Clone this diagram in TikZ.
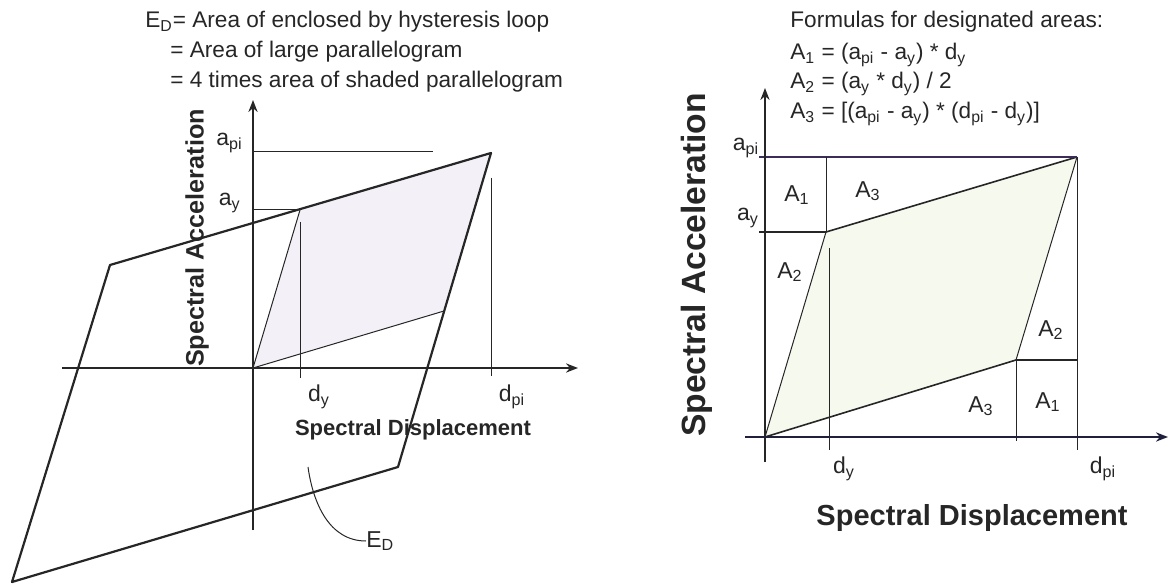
\documentclass[tikz,border=0pt]{standalone}
\usepackage{fontspec}
\setmainfont{Liberation Sans}
\usetikzlibrary{arrows.meta}
\definecolor{ink}{HTML}{262626}
\definecolor{inkB}{HTML}{20203C}
\definecolor{purp}{HTML}{3C2C5A}
\definecolor{shA}{HTML}{F4F0F7}
\definecolor{shB}{HTML}{F6F9EE}
\newcommand{\subx}[1]{\textsubscript{#1}}
\tikzset{
  axis/.style={-{Stealth[length=6pt, width=4.6pt]}, line width=0.8pt, ink},
  loopline/.style={line width=1.1pt, ink, line join=round},
  midline/.style={line width=0.8pt, ink},
  guide/.style={line width=0.5pt, ink},
  lab/.style={font=\fontsize{11.3}{13}\selectfont, text=ink, inner sep=0pt},
  albl/.style={font=\fontsize{11.5}{13}\selectfont, text=ink, inner sep=0pt},
  axtA/.style={font=\bfseries\fontsize{11}{13}\selectfont, text=ink, inner sep=0pt},
  axtB/.style={font=\bfseries\fontsize{14.5}{16}\selectfont, text=ink, inner sep=0pt},
  vaxA/.style={font=\bfseries\fontsize{12.6}{14}\selectfont, text=ink, inner sep=0pt, rotate=90},
  vaxB/.style={font=\bfseries\fontsize{16.8}{18}\selectfont, text=ink, inner sep=0pt, rotate=90},
}

\begin{document}
\begin{tikzpicture}[x=0.5pt,y=-0.5pt]
\useasboundingbox (0,0) rectangle (1172,588);

% ============ panel (a): hysteresis loop and E_D ============================
\begin{scope}
  \node[lab, anchor=base west] (ta) at (145,28) {E\subx{D}= Area of enclosed by hysteresis loop};
  \node[lab, anchor=base west] (tb) at (170,58) {= Area of large parallelogram};
  \node[lab, anchor=base west] (tc) at (170,88) {= 4 times area of shaded parallelogram};
  % corner points
  \coordinate (O) at (253,368);
  \coordinate (Y) at (300,210);
  \coordinate (P) at (491,153);
  \coordinate (Q) at (444,311);
  % shaded parallelogram
  \fill[shA] (O) -- (Y) -- (P) -- (Q) -- cycle;
  \draw[guide] (O) -- (Y);
  \draw[guide] (Q) -- (O);
  % guide lines
  \draw[guide] (253,152) -- (433,152);
  \draw[guide] (O |- Y) -- (Y);
  \draw[guide] (300,222) -- (300,378);
  \draw[guide] (491,178) -- (491,376);
  % axes
  \draw[axis] (253,530) -- (253,100);
  \draw[axis] (62,368) -- (578,368);
  % large parallelogram
  \draw[loopline] (110,265) -- (P) -- (398,467) -- (12,582) -- cycle;
  % labels
  \node[albl, anchor=east] (apiA) at (243,143) {a\subx{pi}};
  \node[albl, anchor=east] (ayA) at (241,203) {a\subx{y}};
  \node[albl] (dyA) at (319,397) {d\subx{y}};
  \node[albl] (dpiA) at (512,397) {d\subx{pi}};
  \node[axtA] (sdA) at (413,430) {Spectral Displacement};
  \node[vaxA] (saA) at (197,238) {Spectral Acceleration};
  \node[albl, anchor=west] (ed) at (366,541) {E\subx{D}};
  \coordinate (edtip) at (308,467);
  \draw[guide] (edtip) to[out=-82, in=180] (ed.west);
\end{scope}

% ============ panel (b): designated areas ===================================
\begin{scope}
  \node[lab, anchor=base west] (fa) at (790,28) {Formulas for designated areas:};
  \node[lab, anchor=base west] (fb) at (790,60) {A\subx{1} = (a\subx{pi} - a\subx{y}) * d\subx{y}};
  \node[lab, anchor=base west] (fc) at (790,89) {A\subx{2} = (a\subx{y} * d\subx{y}) / 2};
  \node[lab, anchor=base west] (fd) at (790,119) {A\subx{3} = [(a\subx{pi} - a\subx{y}) * (d\subx{pi} - d\subx{y})]};
  % corner points
  \coordinate (O2) at (765,437);
  \coordinate (Y2) at (826,232);
  \coordinate (P2) at (1077,157);
  \coordinate (Q2) at (1016,360);
  \fill[shB] (O2) -- (Y2) -- (P2) -- (Q2) -- cycle;
  \draw[guide] (O2) -- (Y2);
  \draw[midline] (Y2) -- (P2);
  \draw[guide] (P2) -- (Q2);
  \draw[midline] (Q2) -- (O2);
  % area boxes
  \draw[midline, purp] (759,157) -- (P2);
  \draw[midline] (759,232) -- (Y2);
  \draw[guide] (826,157) -- (Y2);
  \draw[guide] (829,248) -- (829,450);
  \draw[guide] (P2) -- (1077,450);
  \draw[midline] (Q2) -- (1077,360);
  \draw[guide] (Q2) -- (1016,441);
  % axes
  \draw[axis] (765,462) -- (765,88);
  \draw[axis, inkB, line width=1pt] (745,437) -- (1168,437);
  % labels
  \node[albl] (apiB) at (746,148) {a\subx{pi}};
  \node[albl] (ayB) at (748,218) {a\subx{y}};
  \node[albl] (a1u) at (797,195) {A\subx{1}};
  \node[albl] (a3u) at (868,191) {A\subx{3}};
  \node[albl] (a2l) at (790,272) {A\subx{2}};
  \node[albl] (a2r) at (1051,330) {A\subx{2}};
  \node[albl] (a1r) at (1048,402) {A\subx{1}};
  \node[albl] (a3r) at (981,406) {A\subx{3}};
  \node[albl] (dyB) at (844,469) {d\subx{y}};
  \node[albl] (dpiB) at (1103,469) {d\subx{pi}};
  \node[axtB] (sdB) at (972,518) {Spectral Displacement};
  \node[vaxB] (saB) at (697,265) {Spectral Acceleration};
\end{scope}

\end{tikzpicture}
\end{document}
